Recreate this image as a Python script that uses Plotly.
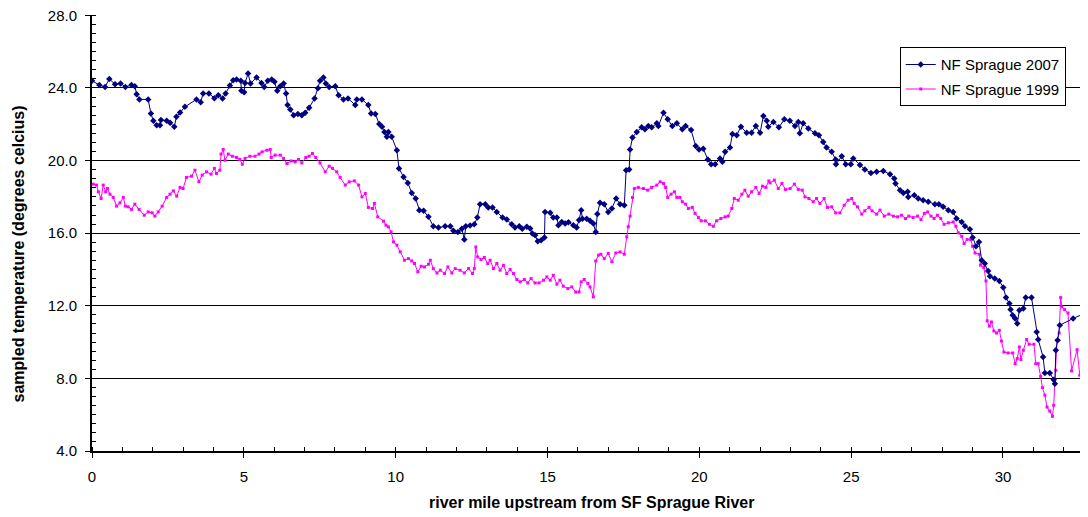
import plotly.graph_objects as go

# ---- data ----
mile_2007 = [0.0, 0.24, 0.43, 0.57, 0.76, 0.94, 1.1, 1.3, 1.41, 1.47, 1.56, 1.85, 1.94, 2.02, 2.13, 2.24, 2.27,
             2.46, 2.57, 2.71, 2.78, 2.9, 3.06, 3.44, 3.58, 3.66, 3.85, 4.03, 4.16, 4.3, 4.4, 4.54, 4.65, 4.76,
             4.9, 4.92, 5.01, 5.04, 5.14, 5.22, 5.42, 5.58, 5.67, 5.79, 5.92, 6.01, 6.1, 6.2, 6.31, 6.39, 6.44,
             6.53, 6.64, 6.78, 6.91, 7.02, 7.15, 7.33, 7.44, 7.51, 7.62, 7.7, 7.81, 8.01, 8.12, 8.28, 8.43, 8.67,
             8.72, 8.89, 9.1, 9.19, 9.33, 9.46, 9.55, 9.63, 9.71, 9.76, 9.87, 10.04, 10.11, 10.26, 10.4, 10.53,
             10.66, 10.78, 10.92, 11.08, 11.24, 11.41, 11.63, 11.8, 11.9, 12.05, 12.18, 12.26, 12.31, 12.45,
             12.59, 12.69, 12.78, 12.95, 13.05, 13.19, 13.33, 13.52, 13.66, 13.82, 13.93, 14.07, 14.17, 14.32,
             14.43, 14.5, 14.59, 14.68, 14.79, 14.9, 14.92, 15.09, 15.19, 15.31, 15.36, 15.47, 15.58, 15.69,
             15.85, 15.96, 16.04, 16.11, 16.15, 16.29, 16.4, 16.51, 16.59, 16.64, 16.73, 16.87, 17.0, 17.12,
             17.26, 17.39, 17.53, 17.59, 17.69, 17.72, 17.8, 17.94, 18.1, 18.21, 18.32, 18.43, 18.6, 18.65,
             18.82, 18.96, 19.11, 19.26, 19.44, 19.55, 19.73, 19.88, 19.99, 20.13, 20.28, 20.39, 20.52, 20.68,
             20.76, 20.85, 21.01, 21.09, 21.23, 21.37, 21.56, 21.72, 21.86, 22.0, 22.11, 22.22, 22.27, 22.44,
             22.62, 22.8, 22.98, 23.15, 23.26, 23.31, 23.42, 23.59, 23.81, 23.94, 24.08, 24.19, 24.36, 24.49,
             24.5, 24.69, 24.82, 24.99, 25.07, 25.29, 25.45, 25.65, 25.84, 26.06, 26.28, 26.42, 26.46, 26.61,
             26.72, 26.86, 26.88, 27.08, 27.21, 27.37, 27.54, 27.76, 27.89, 28.03, 28.2, 28.36, 28.47, 28.64,
             28.75, 28.91, 29.0, 29.11, 29.21, 29.3, 29.4, 29.51, 29.57, 29.73, 29.88, 30.01, 30.1, 30.21,
             30.25, 30.32, 30.4, 30.47, 30.54, 30.67, 30.75, 30.94, 31.11, 31.16, 31.32, 31.38, 31.54, 31.67,
             31.71, 31.74, 31.8, 31.87, 32.31, 33.4]
temp_2007 = [24.4, 24.16, 24.06, 24.5, 24.2, 24.25, 24.06, 24.16, 24.1, 23.66, 23.37, 23.37, 22.6, 22.19, 21.94,
             21.94, 22.23, 22.19, 22.08, 21.86, 22.41, 22.65, 22.96, 23.37, 23.22, 23.7, 23.7, 23.44, 23.6, 23.42,
             23.7, 24.14, 24.43, 24.47, 24.4, 23.84, 23.77, 24.28, 24.8, 24.25, 24.58, 24.28, 24.06, 24.4, 24.47,
             24.34, 23.84, 24.1, 24.25, 23.7, 23.06, 22.82, 22.5, 22.56, 22.5, 22.63, 22.91, 23.42, 23.98, 24.4,
             24.58, 24.25, 24.06, 24.1, 23.6, 23.37, 23.42, 23.06, 23.37, 23.37, 23.06, 22.6, 22.56, 22.01, 21.86,
             21.58, 21.31, 21.58, 21.31, 20.57, 19.57, 19.1, 18.77, 18.22, 17.91, 17.27, 17.23, 16.9, 16.38, 16.31,
             16.38, 16.38, 16.13, 16.07, 16.24, 15.65, 16.38, 16.42, 16.49, 16.86, 17.6, 17.6, 17.42, 17.42, 17.17,
             16.86, 16.75, 16.49, 16.31, 16.38, 16.24, 16.35, 16.26, 15.98, 15.89, 15.56, 15.61, 15.76, 17.17,
             17.12, 16.86, 16.86, 16.44, 16.62, 16.53, 16.6, 16.44, 16.31, 16.72, 17.27, 16.79, 16.79, 16.68,
             16.53, 16.07, 17.05, 17.67, 17.6, 17.17, 17.36, 17.91, 17.6, 17.54, 19.47, 19.51, 20.61, 21.27, 21.58,
             21.83, 21.72, 21.9, 21.83, 22.05, 21.9, 22.63, 22.27, 21.9, 22.05, 21.72, 21.9, 21.68, 20.8, 20.61,
             20.65, 20.06, 19.8, 19.8, 20.12, 19.93, 20.48, 20.72, 21.46, 21.4, 21.86, 21.53, 21.53, 21.9, 21.53,
             22.45, 22.19, 21.86, 22.13, 21.83, 22.27, 22.19, 21.9, 22.13, 21.5, 22.05, 21.77, 21.5, 21.4, 21.03,
             20.72, 20.48, 20.06, 19.8, 20.24, 19.8, 19.8, 20.12, 19.75, 19.51, 19.32, 19.38, 19.43, 19.25, 19.01,
             18.74, 18.37, 18.22, 18.28, 18.0, 18.09, 17.91, 17.82, 17.73, 17.6, 17.6, 17.45, 17.27, 17.17, 16.81,
             16.62, 16.38, 16.22, 15.76, 15.28, 15.52, 14.51, 14.33, 13.92, 13.63, 13.5, 13.37, 13.01, 12.45,
             12.12, 11.79, 11.48, 11.3, 11.02, 11.76, 11.85, 12.45, 12.45, 10.56, 10.14, 9.18, 8.3, 8.3, 7.93,
             7.71, 9.55, 10.1, 10.93, 11.3, 12.1]

mile_1999 = [0.04, 0.15, 0.21, 0.3, 0.37, 0.45, 0.51, 0.59, 0.7, 0.81, 0.92, 1.03, 1.1, 1.19, 1.3, 1.41, 1.55,
             1.72, 1.85, 1.98, 2.07, 2.18, 2.31, 2.46, 2.57, 2.68, 2.79, 2.9, 3.0, 3.11, 3.28, 3.39, 3.52, 3.63,
             3.77, 3.92, 4.03, 4.1, 4.21, 4.25, 4.32, 4.38, 4.49, 4.62, 4.76, 4.87, 4.95, 5.04, 5.2, 5.37, 5.5,
             5.6, 5.76, 5.87, 5.9, 6.03, 6.2, 6.31, 6.42, 6.56, 6.69, 6.8, 6.91, 7.04, 7.15, 7.26, 7.37, 7.51,
             7.68, 7.81, 7.92, 8.06, 8.17, 8.34, 8.47, 8.64, 8.78, 8.89, 9.0, 9.1, 9.24, 9.3, 9.41, 9.6, 9.68,
             9.76, 9.85, 9.93, 10.04, 10.15, 10.29, 10.42, 10.53, 10.62, 10.73, 10.84, 10.95, 11.08, 11.14,
             11.24, 11.36, 11.47, 11.61, 11.72, 11.85, 11.96, 12.12, 12.26, 12.4, 12.53, 12.59, 12.64, 12.7,
             12.81, 12.92, 13.03, 13.11, 13.22, 13.33, 13.44, 13.55, 13.66, 13.77, 13.88, 13.99, 14.1, 14.24,
             14.35, 14.46, 14.59, 14.72, 14.87, 14.98, 15.09, 15.19, 15.31, 15.41, 15.52, 15.67, 15.8, 15.93,
             16.04, 16.11, 16.21, 16.33, 16.4, 16.51, 16.59, 16.68, 16.76, 16.87, 17.0, 17.12, 17.25, 17.39,
             17.53, 17.61, 17.66, 17.72, 17.8, 17.86, 17.99, 18.16, 18.3, 18.43, 18.6, 18.71, 18.82, 18.89,
             18.96, 19.07, 19.18, 19.26, 19.36, 19.44, 19.55, 19.64, 19.77, 19.86, 19.97, 20.06, 20.2, 20.33,
             20.46, 20.57, 20.71, 20.85, 20.95, 21.07, 21.15, 21.28, 21.4, 21.5, 21.61, 21.72, 21.86, 21.97,
             22.08, 22.19, 22.29, 22.33, 22.47, 22.6, 22.72, 22.84, 22.99, 23.13, 23.26, 23.39, 23.48, 23.61,
             23.75, 23.86, 23.97, 24.11, 24.22, 24.36, 24.49, 24.63, 24.77, 24.9, 25.02, 25.1, 25.21, 25.35,
             25.45, 25.59, 25.69, 25.84, 25.95, 26.09, 26.24, 26.39, 26.53, 26.66, 26.79, 26.9, 27.04, 27.19,
             27.3, 27.41, 27.52, 27.63, 27.73, 27.84, 27.95, 28.06, 28.2, 28.36, 28.45, 28.53, 28.64, 28.72,
             28.82, 28.94, 29.0, 29.08, 29.22, 29.26, 29.37, 29.44, 29.48, 29.55, 29.62, 29.7, 29.79, 29.88,
             29.95, 30.03, 30.17, 30.32, 30.4, 30.47, 30.54, 30.59, 30.67, 30.78, 30.86, 31.02, 31.08, 31.16,
             31.24, 31.3, 31.38, 31.45, 31.54, 31.63, 31.67, 31.74, 31.78, 31.85, 31.9, 31.94, 32.03, 32.14,
             32.26, 32.44, 32.53, 32.81, 33.0]
temp_1999 = [18.7, 18.65, 18.28, 17.91, 18.65, 18.28, 18.46, 18.15, 17.97, 17.49, 17.67, 17.97, 17.49, 17.45,
             17.31, 17.6, 17.31, 16.99, 17.17, 17.12, 16.94, 17.17, 17.49, 17.97, 18.15, 18.33, 18.04, 18.52,
             18.46, 19.07, 19.14, 19.47, 18.83, 19.2, 19.38, 19.25, 19.57, 19.29, 19.47, 20.36, 20.61, 20.02,
             20.36, 20.24, 20.17, 20.06, 19.8, 20.12, 20.24, 20.24, 20.36, 20.48, 20.57, 20.61, 20.17, 20.3,
             20.3, 20.12, 19.84, 19.98, 19.93, 20.06, 19.87, 20.17, 20.24, 20.39, 20.17, 19.87, 19.38, 19.69,
             19.57, 19.38, 19.07, 18.65, 18.83, 18.88, 18.65, 18.0, 18.19, 17.42, 17.36, 17.64, 16.9, 16.66,
             16.44, 16.35, 16.07, 15.52, 15.34, 14.97, 14.51, 14.6, 14.47, 14.33, 13.87, 14.18, 14.14, 14.29,
             14.51, 14.05, 13.81, 13.96, 13.78, 14.14, 13.81, 14.05, 13.96, 13.81, 14.05, 13.78, 14.05, 15.24,
             14.69, 14.55, 14.66, 14.33, 14.51, 14.05, 14.33, 13.96, 14.23, 13.78, 14.0, 13.78, 13.45, 13.32,
             13.45, 13.26, 13.5, 13.26, 13.26, 13.41, 13.59, 13.41, 13.68, 13.19, 13.41, 13.08, 12.95, 13.04,
             12.76, 12.76, 13.32, 13.45, 13.23, 13.04, 12.49, 14.47, 14.79, 14.84, 14.6, 14.88, 14.42, 14.91,
             14.97, 14.84, 15.8, 16.35, 16.94, 17.97, 18.46, 18.52, 18.46, 18.37, 18.52, 18.65, 18.83, 18.74,
             18.52, 17.97, 18.15, 18.28, 17.97, 17.97, 17.73, 17.6, 17.36, 17.42, 17.09, 16.86, 16.68, 16.68,
             16.49, 16.38, 16.68, 16.81, 16.9, 16.94, 17.36, 17.91, 17.82, 18.15, 18.37, 18.04, 18.28, 18.52,
             18.19, 18.59, 18.52, 18.88, 18.77, 18.92, 18.46, 18.74, 18.41, 18.46, 18.7, 18.41, 18.37, 18.0,
             17.91, 17.73, 17.91, 17.64, 17.91, 17.42, 17.45, 17.12, 17.12, 17.54, 17.82, 17.91, 17.64, 17.45,
             17.05, 17.23, 17.42, 17.23, 17.05, 17.27, 16.94, 17.05, 16.94, 16.9, 16.99, 16.81, 16.94, 16.86,
             16.94, 16.75, 17.09, 17.17, 16.94, 16.81, 16.99, 16.81, 16.49, 16.57, 16.62, 16.38, 16.02, 15.83,
             15.43, 15.65, 15.65, 15.28, 14.91, 14.84, 14.24, 14.11, 13.37, 11.17, 10.88, 11.11, 10.61, 10.5,
             10.65, 10.06, 9.45, 9.4, 9.4, 8.81, 9.09, 9.73, 9.04, 9.55, 10.14, 9.88, 9.88, 8.81, 8.81, 8.11,
             7.49, 7.07, 6.42, 6.2, 5.91, 6.52, 8.45, 10.1, 10.5, 12.45, 11.94, 11.79, 11.6, 8.41, 9.58, 8.17,
             8.72, 9.0]

series_names = ["NF Sprague 2007", "NF Sprague 1999"]
series_colors = ["#000080", "#FF00FF"]
y_ticks = [4, 8, 12, 16, 20, 24, 28]
x_ticks = [0, 5, 10, 15, 20, 25, 30]

FONT = "Liberation Sans, Arial, sans-serif"

fig = go.Figure()
fig.add_trace(go.Scatter(
    x=mile_1999, y=temp_1999, mode="lines+markers", name=series_names[1],
    line=dict(color=series_colors[1], width=1),
    marker=dict(symbol="square", size=3, color=series_colors[1]),
    legendrank=2, legendgroup="g1999",
))
fig.add_trace(go.Scatter(
    x=mile_2007, y=temp_2007, mode="lines+markers", name=series_names[0],
    line=dict(color=series_colors[0], width=1),
    marker=dict(symbol="diamond", size=5, color=series_colors[0]),
    legendrank=1, legendgroup="g2007",
))

# The page body adds an 8px offset, so the figure is 8px smaller and margins compensate.
fig.update_layout(
    width=1080, height=509,
    margin=dict(l=84, r=0, t=7, b=66),
    paper_bgcolor="white", plot_bgcolor="white",
    font=dict(family=FONT, size=15, color="black"),
    showlegend=True,
    legend=dict(
        x=0.811, y=0.926, xanchor="left", yanchor="top",
        bgcolor="white", bordercolor="black", borderwidth=1,
        font=dict(family=FONT, size=15, color="black"),
        tracegroupgap=2,
    ),
    xaxis=dict(
        range=[0, 32.8], tickmode="array", tickvals=x_ticks,
        showgrid=False, zeroline=False,
        showline=True, linecolor="black", linewidth=2,
        ticks="outside", ticklen=5, tickcolor="black", tickwidth=1,
        ticklabelstandoff=6,
        minor=dict(dtick=1, ticks="inside", ticklen=4, tickcolor="black", showgrid=False),
        tickfont=dict(family=FONT, size=15),
    ),
    yaxis=dict(
        range=[4, 28.02], tickmode="array", tickvals=y_ticks,
        ticktext=[f"{v:.1f}" for v in y_ticks],
        showgrid=True, gridcolor="black", gridwidth=1, zeroline=False,
        showline=True, linecolor="black", linewidth=2,
        ticks="outside", ticklen=5, tickcolor="black", tickwidth=1,
        ticklabelstandoff=5, ticklabeloverflow="allow",
        minor=dict(dtick=0.5, ticks="inside", ticklen=4, tickcolor="black", showgrid=False),
        tickfont=dict(family=FONT, size=15),
    ),
    annotations=[
        dict(text="<b>river mile upstream from SF Sprague River</b>", xref="paper", yref="paper",
             x=0.502, y=-0.119, xanchor="center", yanchor="middle", showarrow=False,
             font=dict(family=FONT, size=16)),
        dict(text="<b>sampled temperature (degrees celcius)</b>", xref="paper", yref="paper",
             x=-0.0743, y=0.453, xanchor="center", yanchor="middle", showarrow=False, textangle=-90,
             font=dict(family=FONT, size=16)),
    ],
)

fig.write_html("out.html")
